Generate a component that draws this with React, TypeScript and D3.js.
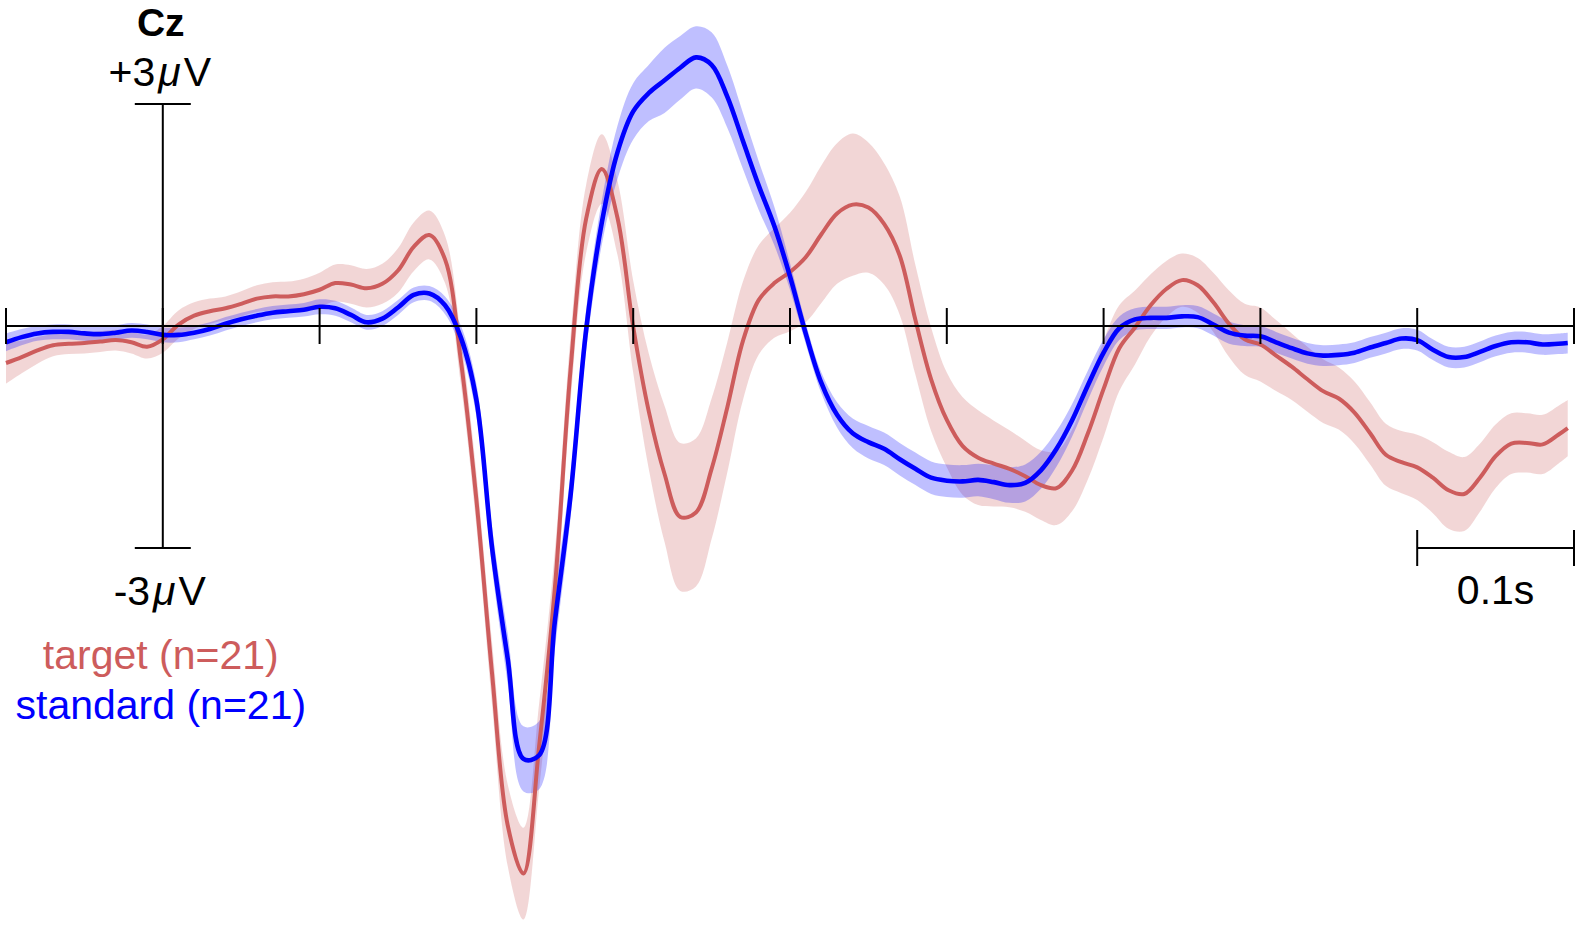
import { useEffect, useRef } from 'react';
import * as d3 from 'd3';

// sample grid in seconds (10 ms steps, last sample at 896 ms)
const times = d3.range(-100, 900, 10).map(ms => ms / 1000).concat([0.896]);

const targetMean = [
  -0.50, -0.42, -0.33, -0.26, -0.24, -0.23, -0.21, -0.19, -0.22, -0.28,
  -0.18, 0.02, 0.14, 0.20, 0.24, 0.30, 0.37, 0.40, 0.40, 0.43,
  0.49, 0.58, 0.56, 0.51, 0.57, 0.75, 1.07, 1.23, 0.90, -0.45,
  -2.35, -4.70, -6.75, -7.40, -5.68, -3.55, -0.60, 1.45, 2.12, 1.46,
  -0.01, -1.16, -2.00, -2.58, -2.52, -1.93, -1.10, -0.20, 0.35, 0.58,
  0.73, 0.93, 1.24, 1.52, 1.64, 1.60, 1.38, 0.95, 0.08, -0.72,
  -1.27, -1.62, -1.78, -1.86, -1.93, -2.03, -2.15, -2.19, -1.95, -1.45,
  -0.85, -0.30, -0.02, 0.28, 0.50, 0.62, 0.55, 0.32, 0.03, -0.18,
  -0.25, -0.40, -0.55, -0.72, -0.88, -0.98, -1.17, -1.45, -1.74, -1.84,
  -1.91, -2.05, -2.22, -2.27, -2.05, -1.76, -1.59, -1.58, -1.60, -1.47,
  -1.38,
];

const targetSe = [
  0.28, 0.22, 0.18, 0.15, 0.14, 0.14, 0.14, 0.14, 0.15, 0.16,
  0.18, 0.19, 0.18, 0.17, 0.16, 0.17, 0.18, 0.19, 0.20, 0.21,
  0.23, 0.25, 0.26, 0.26, 0.27, 0.30, 0.33, 0.33, 0.32, 0.32,
  0.36, 0.42, 0.55, 0.62, 0.58, 0.50, 0.45, 0.46, 0.47, 0.50,
  0.62, 0.78, 0.92, 1.00, 1.00, 0.95, 0.88, 0.80, 0.74, 0.74,
  0.80, 0.88, 0.93, 0.95, 0.96, 0.88, 0.82, 0.80, 0.74, 0.70,
  0.64, 0.66, 0.64, 0.58, 0.52, 0.48, 0.47, 0.50, 0.55, 0.62,
  0.65, 0.58, 0.50, 0.42, 0.38, 0.36, 0.37, 0.40, 0.45, 0.48,
  0.50, 0.48, 0.45, 0.44, 0.43, 0.42, 0.42, 0.42, 0.42, 0.42,
  0.44, 0.48, 0.52, 0.50, 0.46, 0.43, 0.41, 0.40, 0.40, 0.39,
  0.38,
];

const standardMean = [
  -0.22, -0.15, -0.10, -0.08, -0.08, -0.10, -0.11, -0.09, -0.06, -0.08,
  -0.12, -0.12, -0.09, -0.04, 0.03, 0.09, 0.14, 0.18, 0.20, 0.22,
  0.26, 0.24, 0.15, 0.05, 0.10, 0.25, 0.42, 0.44, 0.28, -0.15,
  -1.00, -3.00, -4.50, -5.85, -5.80, -4.00, -2.30, -0.05, 1.40, 2.35,
  2.90, 3.15, 3.32, 3.49, 3.63, 3.53, 3.10, 2.50, 1.90, 1.35,
  0.67, -0.10, -0.77, -1.20, -1.45, -1.57, -1.66, -1.80, -1.93, -2.05,
  -2.09, -2.10, -2.08, -2.11, -2.15, -2.12, -1.95, -1.66, -1.27, -0.80,
  -0.36, -0.03, 0.09, 0.11, 0.11, 0.13, 0.12, 0.02, -0.09, -0.13,
  -0.14, -0.22, -0.30, -0.37, -0.40, -0.39, -0.36, -0.29, -0.23, -0.17,
  -0.19, -0.32, -0.42, -0.42, -0.35, -0.27, -0.22, -0.22, -0.25, -0.24,
  -0.23,
];

const standardSe = [
  0.12, 0.11, 0.10, 0.10, 0.10, 0.10, 0.10, 0.10, 0.10, 0.10,
  0.10, 0.10, 0.09, 0.09, 0.09, 0.09, 0.09, 0.09, 0.09, 0.09,
  0.10, 0.10, 0.10, 0.10, 0.10, 0.10, 0.10, 0.10, 0.12, 0.16,
  0.22, 0.28, 0.34, 0.44, 0.46, 0.38, 0.30, 0.28, 0.30, 0.36,
  0.38, 0.38, 0.44, 0.43, 0.42, 0.44, 0.42, 0.38, 0.33, 0.26,
  0.18, 0.14, 0.14, 0.17, 0.20, 0.22, 0.22, 0.22, 0.22, 0.22,
  0.22, 0.22, 0.22, 0.23, 0.24, 0.25, 0.25, 0.24, 0.22, 0.20,
  0.18, 0.16, 0.15, 0.15, 0.15, 0.15, 0.15, 0.15, 0.15, 0.14,
  0.14, 0.14, 0.14, 0.14, 0.14, 0.14, 0.14, 0.14, 0.14, 0.14,
  0.14, 0.14, 0.14, 0.14, 0.14, 0.14, 0.14, 0.14, 0.14, 0.14,
  0.14,
];

const xTicks = [-0.1, 0, 0.1, 0.2, 0.3, 0.4, 0.5, 0.6, 0.7, 0.8, 0.9];
const channel = 'Cz';
const legendLabels = ['target (n=21)', 'standard (n=21)'];
const scaleBarLabel = '0.1s';

const WIDTH = 1579;
const HEIGHT = 928;
const FONT = '"Liberation Sans", Arial, Helvetica, sans-serif';
const FONT_SIZE = 41;
const RED = '#cd5c5c';
const BLUE = '#0000ff';

const App = () => {
  const svgRef = useRef<SVGSVGElement | null>(null);

  useEffect(() => {
    const svg = d3.select(svgRef.current);
    svg.selectAll('*').remove();

    const x = d3.scaleLinear().domain([-0.1, 0.9]).range([6, 1574]);
    const y = d3.scaleLinear().domain([-3, 3]).range([548, 104]);
    const y0 = y(0);
    const x0 = x(0);

    const series = [
      { mean: targetMean, se: targetSe, color: RED, width: 4 },
      { mean: standardMean, se: standardSe, color: BLUE, width: 4.6 },
    ];

    // shaded error bands first
    series.forEach(s => {
      const band = d3.area<number>()
        .x(i => x(times[i]))
        .y0(i => y(s.mean[i] - s.se[i]))
        .y1(i => y(s.mean[i] + s.se[i]))
        .curve(d3.curveCatmullRom.alpha(0.5));
      svg.append('path')
        .attr('d', band(d3.range(times.length)))
        .attr('fill', s.color)
        .attr('fill-opacity', 0.25)
        .attr('stroke', 'none');
    });

    // mean waveforms
    series.forEach(s => {
      const line = d3.line<number>()
        .x(i => x(times[i]))
        .y(i => y(s.mean[i]))
        .curve(d3.curveCatmullRom.alpha(0.5));
      svg.append('path')
        .attr('d', line(d3.range(times.length)))
        .attr('fill', 'none')
        .attr('stroke', s.color)
        .attr('stroke-width', s.width)
        .attr('stroke-linejoin', 'round');
    });

    const axes = svg.append('g')
      .attr('stroke', '#000')
      .attr('stroke-width', 2)
      .attr('fill', 'none');

    // time axis with 100 ms ticks
    axes.append('line')
      .attr('x1', x(-0.1)).attr('x2', x(0.9))
      .attr('y1', y0).attr('y2', y0);
    axes.selectAll('.tick')
      .data(xTicks)
      .enter()
      .append('line')
      .attr('x1', d => x(d)).attr('x2', d => x(d))
      .attr('y1', y0 - 18).attr('y2', y0 + 18);

    // amplitude axis at stimulus onset
    axes.append('line')
      .attr('x1', x0).attr('x2', x0)
      .attr('y1', y(3)).attr('y2', y(-3));
    [3, -3].forEach(v => {
      axes.append('line')
        .attr('x1', x0 - 28).attr('x2', x0 + 28)
        .attr('y1', y(v)).attr('y2', y(v));
    });

    // 0.1 s scale bar
    axes.append('line')
      .attr('x1', x(0.8)).attr('x2', x(0.9))
      .attr('y1', y(-3)).attr('y2', y(-3));
    [0.8, 0.9].forEach(t => {
      axes.append('line')
        .attr('x1', x(t)).attr('x2', x(t))
        .attr('y1', y(-3) - 18).attr('y2', y(-3) + 18);
    });

    const text = svg.append('g')
      .attr('font-family', FONT)
      .attr('font-size', FONT_SIZE)
      .attr('text-anchor', 'middle');

    text.append('text')
      .attr('x', x0 - 2).attr('y', 36)
      .attr('font-size', 39)
      .attr('font-weight', 'bold')
      .text(channel);

    const microLabel = (sign: string, baseline: number) => {
      const t = text.append('text')
        .attr('x', x0 - 3).attr('y', baseline);
      t.append('tspan').text(`${sign}3`);
      t.append('tspan').attr('dx', 3).attr('font-style', 'italic').text('μ');
      t.append('tspan').attr('dx', 3).text('V');
    };
    microLabel('+', 86);
    microLabel('-', 605);

    text.append('text')
      .attr('x', x(0.85)).attr('y', 604)
      .text(scaleBarLabel);

    text.append('text')
      .attr('x', x0 - 2).attr('y', 669)
      .attr('fill', RED)
      .text(legendLabels[0]);
    text.append('text')
      .attr('x', x0 - 2).attr('y', 719)
      .attr('fill', BLUE)
      .text(legendLabels[1]);
  }, []);

  return (
    <svg
      ref={svgRef}
      width={WIDTH}
      height={HEIGHT}
      style={{ position: 'absolute', left: 0, top: 0, background: '#fff' }}
    />
  );
};

export default App;
